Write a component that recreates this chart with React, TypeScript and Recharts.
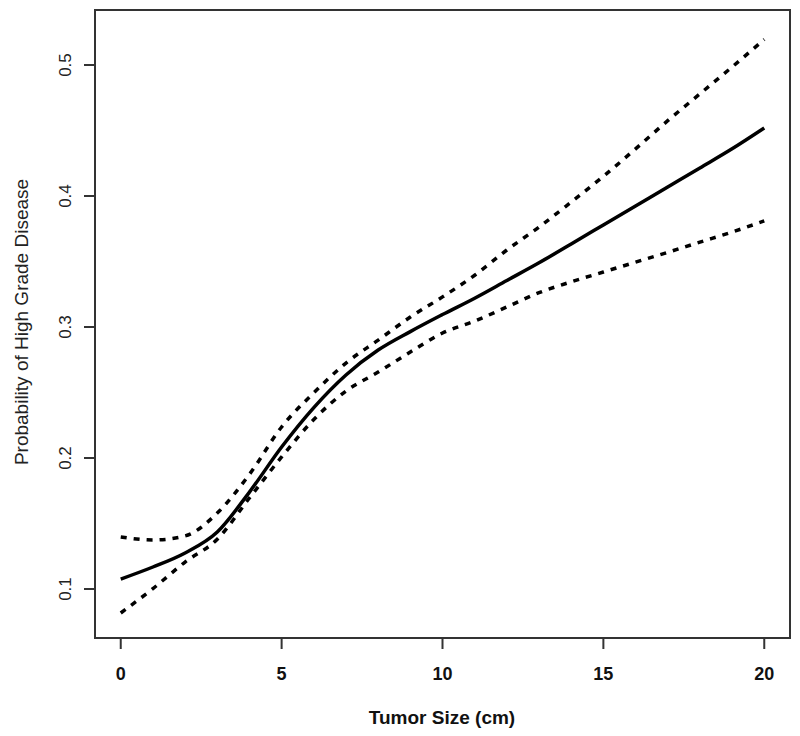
import React from 'react';
import { LineChart, Line, XAxis, YAxis, ReferenceArea } from 'recharts';

const tumorSize = [0, 1, 2, 3, 4, 5, 6, 7, 8, 9, 10, 11, 12, 13, 14, 15, 16, 17, 18, 19, 20];
const fitProb = [0.1076, 0.1168, 0.1275, 0.1435, 0.174, 0.2084, 0.2385, 0.2634, 0.2824, 0.2965, 0.3095, 0.322, 0.3355, 0.349, 0.3634, 0.3779, 0.3924, 0.4069, 0.4214, 0.436, 0.4519];
const upperCI = [0.1397, 0.1374, 0.1405, 0.158, 0.1875, 0.2237, 0.2498, 0.2725, 0.29, 0.3076, 0.323, 0.3395, 0.3588, 0.3763, 0.3954, 0.415, 0.436, 0.4575, 0.478, 0.4985, 0.5195];
const lowerCI = [0.0817, 0.1003, 0.1206, 0.138, 0.1695, 0.2008, 0.2294, 0.2511, 0.2656, 0.2809, 0.2954, 0.3045, 0.3153, 0.3262, 0.3345, 0.342, 0.3495, 0.357, 0.3648, 0.3725, 0.381];
const xTicks = [0, 5, 10, 15, 20];
const yTicks = [0.1, 0.2, 0.3, 0.4, 0.5];
const xDomain = [-0.8, 20.8];
const yDomain = [0.0626, 0.542];

const data = tumorSize.map((x, i) => ({
  size: x,
  fit: fitProb[i],
  upper: upperCI[i],
  lower: lowerCI[i],
}));

const FONT = 'Liberation Sans, Arial, sans-serif';
const INK = '#333';

const YTick = (props: any) => {
  const { y, payload } = props;
  const x = 71;
  return (
    <text
      x={x}
      y={y}
      transform={`rotate(-90, ${x}, ${y})`}
      textAnchor="middle"
      fontFamily={FONT}
      fontSize={17}
      fill="#222"
    >
      {payload.value}
    </text>
  );
};

const XTick = (props: any) => {
  const { x, payload } = props;
  return (
    <text x={x} y={680} textAnchor="middle" fontFamily={FONT} fontSize={18} fontWeight="bold" fill="#111">
      {payload.value}
    </text>
  );
};

export default function App() {
  return (
    <div style={{ position: 'absolute', left: 0, top: 0, width: 800, height: 736, background: '#fff' }}>
      <LineChart width={800} height={736} data={data} margin={{ top: 10, right: 10, bottom: 0, left: 0 }}>
        <XAxis
          dataKey="size"
          type="number"
          domain={xDomain}
          ticks={xTicks}
          allowDataOverflow
          height={98}
          tickSize={11}
          stroke={INK}
          strokeWidth={2}
          tick={<XTick />}
        />
        <YAxis
          type="number"
          domain={yDomain}
          ticks={yTicks}
          allowDataOverflow
          width={95}
          tickSize={11}
          stroke={INK}
          strokeWidth={2}
          tick={<YTick />}
        />
        {/* box frame around the plot region */}
        <ReferenceArea
          x1={xDomain[0]}
          x2={xDomain[1]}
          y1={yDomain[0]}
          y2={yDomain[1]}
          fill="none"
          fillOpacity={0}
          stroke={INK}
          strokeWidth={2}
          ifOverflow="visible"
        />
        <Line type="monotone" dataKey="upper" stroke="#000" strokeWidth={3.5} strokeDasharray="6 7" dot={false} isAnimationActive={false} />
        <Line type="monotone" dataKey="lower" stroke="#000" strokeWidth={3.5} strokeDasharray="6 7" dot={false} isAnimationActive={false} />
        <Line type="monotone" dataKey="fit" stroke="#000" strokeWidth={3.5} dot={false} isAnimationActive={false} />
        <text x={442} y={724} textAnchor="middle" fontFamily={FONT} fontSize={19} fontWeight="bold" fill="#111">
          Tumor Size (cm)
        </text>
        <text
          x={28}
          y={322}
          transform="rotate(-90, 28, 322)"
          textAnchor="middle"
          fontFamily={FONT}
          fontSize={19}
          fill="#222"
        >
          Probability of High Grade Disease
        </text>
      </LineChart>
    </div>
  );
}
